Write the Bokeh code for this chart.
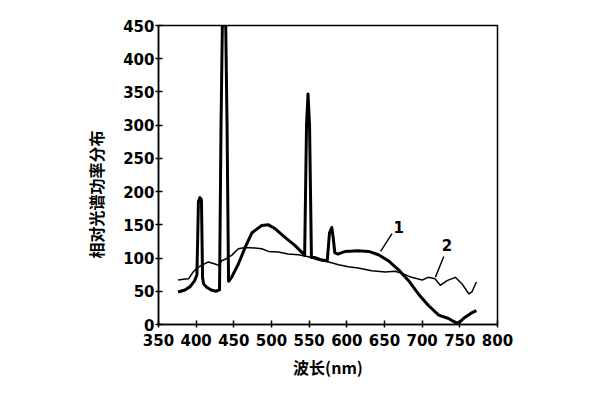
from bokeh.plotting import figure
from bokeh.models import Range1d, Title, FixedTicker
from bokeh.embed import file_html
from bokeh.resources import INLINE
from bokeh.core.properties import value

# ---- data ----
x_ticks = [350, 400, 450, 500, 550, 600, 650, 700, 750, 800]
y_ticks = [0, 50, 100, 150, 200, 250, 300, 350, 400, 450]

# curve 1 (thick line, with mercury line spikes)
wl1 = [376, 385, 392, 398, 401, 403, 405, 407, 408.5, 410, 414, 420, 426, 431,
       433, 435, 439, 441, 443, 447, 456, 465, 474, 487, 496, 505, 518, 531,
       540, 544, 546.5, 548.5, 550.5, 553, 557, 567, 574, 577, 580, 582, 584, 588,
       598, 615, 629, 642, 655, 669, 682, 695, 708, 722, 735, 741, 746, 750,
       757, 765, 772]
spd1 = [49, 52, 57, 66, 75, 185, 191, 188, 70, 61, 56, 52, 50, 52,
        300, 470, 470, 300, 65, 71, 91, 116, 138, 149, 150, 144, 131, 119,
        109, 104, 300, 347, 300, 101, 101, 97, 96, 138, 146, 130, 108, 106,
        110, 111, 110, 105, 96, 82, 66, 46, 29, 14, 9, 5, 2, 4,
        11, 17, 21]

# curve 2 (thin line)
wl2 = [376, 383, 390, 396, 401, 407, 416, 425, 430, 434, 440, 447, 456, 465,
       478, 487, 496, 509, 522, 536, 549, 562, 576, 589, 602, 615, 633, 651,
       664, 673, 686, 700, 708, 717, 724, 733, 744, 753, 762, 766, 772]
spd2 = [67, 68, 69, 79, 85, 89, 94, 91, 89, 96, 99, 104, 114, 116,
        115, 114, 110, 109, 106, 105, 102, 97, 94, 90, 87, 85, 81, 79,
        80, 77, 71, 67, 71, 69, 59, 66, 71, 61, 46, 49, 64]

# curve labels and leader lines
label_text = ["1", "2"]
label_x = [669, 733]
label_y = [147, 119]
leader_x0 = [660, 728.7]
leader_y0 = [136.6, 102.4]
leader_x1 = [644.8, 717.6]
leader_y1 = [110, 71.3]

p = figure(width=584, height=384, output_backend="svg", toolbar_location=None,
           x_range=Range1d(350, 800), y_range=Range1d(0, 450),
           min_border_left=158, min_border_right=87,
           min_border_top=25, min_border_bottom=60)

p.xgrid.visible = False
p.ygrid.visible = False
p.outline_line_color = "black"
p.outline_line_width = 1.5
p.background_fill_color = "white"
p.border_fill_color = "white"

p.line(wl1, spd1, line_color="black", line_width=3, line_join="round")
p.line(wl2, spd2, line_color="black", line_width=1.5, line_join="round")
p.segment(leader_x0, leader_y0, leader_x1, leader_y1, line_color="black", line_width=1.4)
p.text(label_x, label_y, text=label_text, text_font=value("DejaVu Sans"),
       text_font_size="15px", text_align="center", text_baseline="middle",
       text_color="black", text_font_style="bold")

for ax, ticks in ((p.xaxis[0], x_ticks), (p.yaxis[0], y_ticks)):
    ax.ticker = FixedTicker(ticks=ticks)
    ax.minor_tick_line_color = None
    ax.major_tick_in = 4
    ax.major_tick_out = 3
    ax.axis_line_width = 1.5
    ax.major_tick_line_width = 1.5
    ax.major_label_text_font = "DejaVu Sans"
    ax.major_label_text_font_size = "15px"
    ax.major_label_text_font_style = "bold"
    ax.major_label_text_color = "black"
    ax.axis_label_text_font = "Noto Sans CJK SC"
    ax.axis_label_text_font_size = "16px"
    ax.axis_label_text_font_style = "bold"
    ax.axis_label_text_color = "black"

p.xaxis.major_label_standoff = 6
p.yaxis.major_label_standoff = 1
p.xaxis.axis_label = "波长(nm)"
p.xaxis.axis_label_standoff = 6

p.add_layout(Title(text="相对光谱功率分布", align="left", offset=66,
                   text_font="Noto Sans CJK SC", text_font_size="16px",
                   text_font_style="bold", text_color="black", standoff=25), "left")

open("out.html", "w").write(file_html(p, INLINE))
